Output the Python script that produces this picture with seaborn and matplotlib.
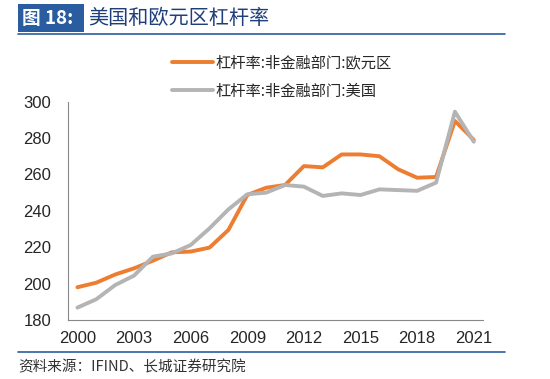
import matplotlib
matplotlib.use("Agg")
import matplotlib.pyplot as plt
from matplotlib.patches import Rectangle
from matplotlib.lines import Line2D
import seaborn as sns
import pandas as pd
import numpy as np

years = list(range(2000, 2022))
euro = [198, 200.5, 205, 208.4, 212.6, 217.2, 217.6, 219.8, 229.5, 248.7, 252.7, 254.2,
        264.6, 263.9, 271, 271, 270, 262.8, 258.2, 258.6, 289.4, 279]
usa = [186.8, 191.4, 199.2, 204.4, 214.8, 216.6, 221.2, 230.4, 240.8, 249.1, 250, 254.2,
       253.3, 248.2, 249.6, 248.7, 251.8, 251.4, 251, 255.5, 294.5, 278]
series_names = ["杠杆率:非金融部门:欧元区", "杠杆率:非金融部门:美国"]
tick_years = [2000, 2003, 2006, 2009, 2012, 2015, 2018, 2021]
title = "美国和欧元区杠杆率"
fig_label = "图 18:"
source = "资料来源：IFIND、长城证券研究院"

sns.set_style("white")
plt.rcParams['font.family'] = ['Noto Sans CJK SC', 'DejaVu Sans']

df = pd.DataFrame({
    "idx": list(range(len(years))) * 2,
    "value": euro + usa,
    "series": [series_names[0]] * len(years) + [series_names[1]] * len(years),
})

fig = plt.figure(figsize=(5.5, 3.79), dpi=100)
ax = fig.add_axes([0.1236, 0.1557, 0.755, 0.576])
palette = {series_names[0]: "#ED7D31", series_names[1]: "#B4B4B4"}
sns.lineplot(data=df, x="idx", y="value", hue="series", palette=palette,
             linewidth=2.8, ax=ax, legend=False, sort=False)
ax.set_xlim(-0.5, len(years) - 0.5)
ax.set_ylim(180, 300)
ax.set_yticks(np.arange(180, 301, 20))
ax.set_xticks([years.index(y) for y in tick_years])
ax.set_xticklabels([str(y) for y in tick_years])
ax.set_xticks(np.arange(-0.5, len(years), 3), minor=True)
ax.tick_params(axis='x', which='major', length=0, labelsize=12, pad=8)
ax.tick_params(axis='x', which='minor', length=4, width=0.8, color="#888888", direction='out')
ax.tick_params(axis='y', length=0, labelsize=12, pad=12)
ax.set_xlabel("")
ax.set_ylabel("")
for s in ["top", "right"]:
    ax.spines[s].set_visible(False)
for s in ["left", "bottom"]:
    ax.spines[s].set_color("#888888")
    ax.spines[s].set_linewidth(0.8)
for lab in ax.get_xticklabels() + ax.get_yticklabels():
    lab.set_fontfamily(['Liberation Sans', 'DejaVu Sans'])

# legend
handles = [Line2D([0], [0], color=palette[n], lw=2.8) for n in series_names]
leg = fig.legend(handles, series_names, loc="upper left", bbox_to_anchor=(0.3127, 0.857),
                 frameon=False, fontsize=11, handlelength=2.7, handletextpad=0.15,
                 labelspacing=0.75, borderaxespad=0, borderpad=0)

# header
fig.patches.append(Rectangle((18 / 550, 1 - 32 / 379), 66 / 550, 28 / 379,
                             transform=fig.transFigure, facecolor="#2A5CA0", edgecolor="none"))
fig.text(22 / 550, 1 - 18 / 379, fig_label, color="white", fontsize=13.5, fontweight="bold",
         va="center", ha="left")
fig.text(88 / 550, 1 - 18 / 379, title, color="#1F3F7A", fontsize=14.5,
         va="center", ha="left")
fig.add_artist(Line2D([18 / 550, 505 / 550], [1 - 33.5 / 379] * 2, color="#2A5CA0", lw=1.2,
                      transform=fig.transFigure))
fig.add_artist(Line2D([18 / 550, 505 / 550], [1 - 352 / 379] * 2, color="#2A5CA0", lw=1.2,
                      transform=fig.transFigure))
fig.text(18 / 550, 1 - 367 / 379, source, color="#333333", fontsize=10.5, style="italic",
         va="center", ha="left")

fig.savefig("out.png", dpi=100)
